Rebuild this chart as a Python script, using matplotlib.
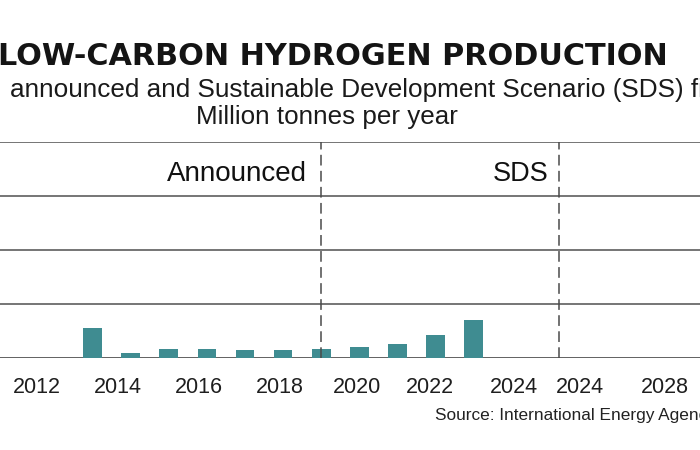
import matplotlib
matplotlib.use("Agg")
import matplotlib.pyplot as plt
import numpy as np

# ---- data ----
bar_years = [2013, 2014, 2015, 2016, 2017, 2018, 2019, 2020, 2021, 2022, 2023]
bar_values = [0.56, 0.09, 0.17, 0.17, 0.15, 0.15, 0.17, 0.20, 0.26, 0.43, 0.70]
tick_labels = ["2012", "2014", "2016", "2018", "2020", "2022", "2024", "2024", "2028"]
tick_positions = [-1.46, 0.67, 2.80, 4.92, 6.94, 8.86, 11.06, 12.80, 15.03]
section_labels = ["Announced", "SDS"]
section_dividers = [6.0, 12.24]
grid_levels = [0, 1, 2, 3, 4]

title = "LOW-CARBON HYDROGEN PRODUCTION"
subtitle = "announced and Sustainable Development Scenario (SDS) figures"
unit = "Million tonnes per year"
source = "Source: International Energy Agency"

W, H = 700, 450
fig = plt.figure(figsize=(7, 4.5), dpi=100)
fig.patch.set_facecolor("white")

def fx(px):
    return px / W

def fy(py):
    return 1 - py / H

ax = fig.add_axes([0, fy(358), 1, (358 - 142) / H])
ax.set_facecolor("white")

xpos = np.arange(len(bar_years))
ax.bar(xpos, bar_values, width=0.49, color="#3f8c91", zorder=3)

ax.set_xlim(-2.43, 15.94)
ax.set_ylim(0, 4)

for g in grid_levels:
    ax.axhline(g, color="#555555" if g == 0 else "#6a6a6a", lw=1.3, zorder=2)
for d in section_dividers:
    ax.axvline(d, color="#4a4a4a", lw=1.1, linestyle=(0, (7, 3.5)), zorder=4)

for sp in ax.spines.values():
    sp.set_visible(False)
ax.set_yticks([])
ax.set_xticks(tick_positions)
ax.set_xticklabels(tick_labels, fontsize=15.5, color="#1e1e1e", family="Liberation Sans")
ax.tick_params(axis="x", length=0, pad=14)

body = ["Liberation Sans", "DejaVu Sans"]
fig.text(fx(333), fy(65), title, ha="center", va="baseline", fontsize=21.8,
         fontweight="heavy", family="DejaVu Sans", color="#141414")
fig.text(fx(10), fy(97), subtitle, ha="left", va="baseline", fontsize=18.8,
         family=body, color="#1a1a1a")
fig.text(fx(327), fy(124), unit, ha="center", va="baseline", fontsize=18.7,
         family=body, color="#1a1a1a")
fig.text(fx(307), fy(181), section_labels[0], ha="right", va="baseline", fontsize=20,
         family=body, color="#111111")
fig.text(fx(548), fy(181), section_labels[1], ha="right", va="baseline", fontsize=19.5,
         family=body, color="#111111")
fig.text(fx(435), fy(420), source, ha="left", va="baseline", fontsize=12.4,
         family=body, color="#222222")

fig.savefig("out.png", dpi=100, facecolor="white")
